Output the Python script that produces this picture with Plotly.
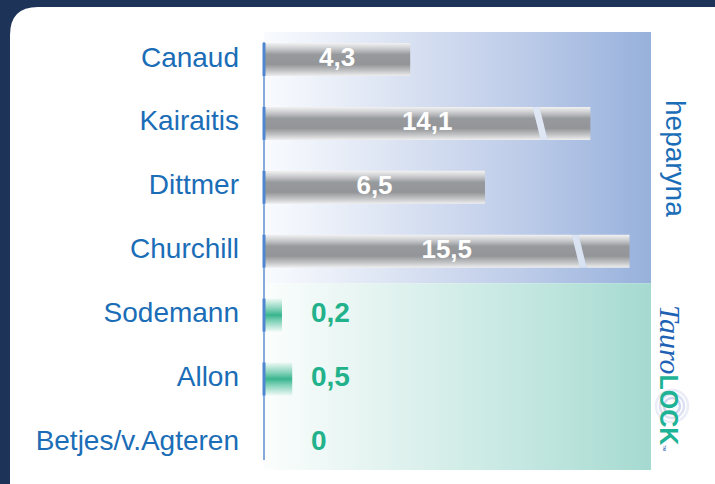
import plotly.graph_objects as go

# ---------------- data ----------------
studies = ["Canaud", "Kairaitis", "Dittmer", "Churchill", "Sodemann", "Allon", "Betjes/v.Agteren"]
values = [4.3, 14.1, 6.5, 15.5, 0.2, 0.5, 0.0]
groups = ["heparyna", "heparyna", "heparyna", "heparyna", "TauroLock", "TauroLock", "TauroLock"]
# displayed (axis-broken) length for bars that run off the scale
broken_display = {"Kairaitis": 9.6, "Churchill": 10.75}
group_labels = ["heparyna", "TauroLock"]

# ---------------- styling constants ----------------
W, H = 715, 484
PX_PER_UNIT = 34.0
X0_PX = 264.0
ROW0_PX, ROW_STEP = 59.5, 63.9
NAVY = "#1e3358"
BLUE_TXT = "#1a6db6"
GREEN_TXT = "#22b28b"
HH = 0.258          # half bar height (row units)
GLOW = 0.33         # soft glow around tiny green bars
BREAK_FROM_END = 1.7
SLANT = 0.24
GAP = 0.2

xr = [-X0_PX / PX_PER_UNIT, (W - X0_PX) / PX_PER_UNIT]
yr = [(H - ROW0_PX) / ROW_STEP, -ROW0_PX / ROW_STEP]   # reversed

def px_to_x(px):
    return (px - X0_PX) / PX_PER_UNIT

def py_to_y(py):
    return (py - ROW0_PX) / ROW_STEP

fig = go.Figure()

# ---------------- gradient panels ----------------
panel_l, panel_r = 0.0, px_to_x(651)
panel_top, panel_split, panel_bot = py_to_y(32), 3.5, py_to_y(470)
panels = [
    (panel_top, panel_split, [[0, "#f9fbfe"], [0.3, "#dfe6f4"], [0.65, "#bfcde9"], [1, "#97b1dc"]]),
    (panel_split, panel_bot, [[0, "#fbfefd"], [0.3, "#e3f3f0"], [0.65, "#c6e8e2"], [1, "#a5dad0"]]),
]
for y_a, y_b, cs in panels:
    fig.add_trace(go.Scatter(
        x=[panel_l, panel_r, panel_r, panel_l, panel_l],
        y=[y_a, y_a, y_b, y_b, y_a],
        mode="lines", line=dict(width=0), fill="toself",
        fillgradient=dict(type="horizontal", colorscale=cs, start=panel_l, stop=panel_r),
        hoverinfo="skip", showlegend=False))

grey_cs = [[0, "#f2f2f3"], [0.15, "#cfd0d2"], [0.35, "#979a9d"], [0.65, "#939598"],
           [0.85, "#c4c5c7"], [1, "#eeeeef"]]
green_cs = [[0, "rgba(60,184,144,0.05)"], [0.3, "rgba(60,184,144,0.6)"], [0.5, "rgba(45,176,136,0.95)"],
            [0.7, "rgba(60,184,144,0.6)"], [1, "rgba(60,184,144,0.05)"]]

def poly(xs, ys, cs, yc):
    fig.add_trace(go.Scatter(
        x=xs, y=ys, mode="lines", line=dict(width=0), fill="toself",
        fillgradient=dict(type="vertical", colorscale=cs, start=yc - HH, stop=yc + HH),
        hoverinfo="skip", showlegend=False))

# ---------------- axis line ----------------
fig.add_trace(go.Scatter(x=[0, 0], y=[py_to_y(42), py_to_y(460)], mode="lines",
                         line=dict(color="#86a8dc", width=2), hoverinfo="skip", showlegend=False))

# ---------------- bars ----------------
for i, (name, v, g) in enumerate(zip(studies, values, groups)):
    yc = i
    top, bot = yc - HH, yc + HH
    if v <= 0:
        continue
    if g == "heparyna":
        L = broken_display.get(name, v)
        if name in broken_display:
            b = L - BREAK_FROM_END
            poly([0, b, b + SLANT, 0, 0], [top, top, bot, bot, top], grey_cs, yc)
            poly([b + GAP, L, L, b + GAP + SLANT, b + GAP], [top, top, bot, bot, top], grey_cs, yc)
            fig.add_trace(go.Scatter(
                x=[b, b + GAP, b + GAP + SLANT, b + SLANT, b], y=[top, top, bot, bot, top],
                mode="lines", line=dict(width=0), fill="toself",
                fillcolor="rgba(255,255,255,0.55)", hoverinfo="skip", showlegend=False))
        else:
            poly([0, L, L, 0, 0], [top, top, bot, bot, top], grey_cs, yc)
    else:
        L = v + GLOW
        poly([0, L, L, 0, 0], [top, top, bot, bot, top], green_cs, yc)
    # darker start tick on the axis
    fig.add_trace(go.Scatter(x=[0, 0], y=[top, bot], mode="lines",
                             line=dict(color="#4f86cf", width=3), hoverinfo="skip", showlegend=False))

# ---------------- category labels ----------------
fig.add_trace(go.Scatter(
    x=[px_to_x(239)] * len(studies), y=list(range(len(studies))), mode="text",
    text=studies, textposition="middle left",
    textfont=dict(family="Liberation Sans, Arial, sans-serif", size=28, color=BLUE_TXT),
    hoverinfo="skip", showlegend=False))

# ---------------- value labels ----------------
lab_fmt = [f"{v:g}".replace(".", ",") for v in values]
hx, hy, ht, gx, gy, gt = [], [], [], [], [], []
for i, (name, v, g) in enumerate(zip(studies, values, groups)):
    if g == "heparyna":
        hx.append(broken_display.get(name, v) / 2)
        hy.append(i)
        ht.append(lab_fmt[i])
    else:
        gx.append(px_to_x(311))
        gy.append(i)
        gt.append(lab_fmt[i])
fig.add_trace(go.Scatter(
    x=hx, y=hy, text=ht, mode="text", textposition="middle center",
    textfont=dict(family="Liberation Sans, Arial, sans-serif", size=26, color="white", weight="bold"),
    hoverinfo="skip", showlegend=False))
fig.add_trace(go.Scatter(
    x=gx, y=gy, text=gt, mode="text", textposition="middle right",
    textfont=dict(family="Liberation Sans, Arial, sans-serif", size=28, color=GREEN_TXT, weight="bold"),
    hoverinfo="skip", showlegend=False))

# ---------------- group labels (vertical) ----------------
fig.add_annotation(x=px_to_x(676), y=py_to_y(158), text=group_labels[0], textangle=90,
                   showarrow=False, xref="x", yref="y",
                   font=dict(family="Liberation Sans, Arial, sans-serif", size=28, color=BLUE_TXT))

# ripple rings around the "O" of the logo
for rad, col in [(16, "rgba(170,178,225,0.25)"), (12, "rgba(160,170,220,0.35)"), (8, "rgba(140,150,215,0.4)")]:
    fig.add_shape(type="circle", xref="x", yref="y", xsizemode="pixel", ysizemode="pixel",
                  xanchor=px_to_x(672), yanchor=py_to_y(406), x0=-rad, x1=rad, y0=-rad, y1=rad,
                  line=dict(color=col, width=2.5), fillcolor="rgba(0,0,0,0)", layer="above")

tauro = ("<span style='font-family:Liberation Serif, Times New Roman, serif;font-style:italic;color:#1d62b4;font-size:30px'>Tauro</span>"
         "<span style='font-family:Liberation Sans, Arial, sans-serif;font-weight:bold;color:#1db394;font-size:25px'>LOCK</span>"
         "<span style='color:#1d62b4;font-size:8px'>™</span>")
fig.add_annotation(x=px_to_x(671), y=py_to_y(378), text=tauro, textangle=90,
                   showarrow=False, xref="x", yref="y")

# ---------------- card background ----------------
def P(px, py):
    return f"{px / W:.5f},{1 - py / H:.5f}"

x1c, y1c, x2c, y2c, r = 10, 7, 742, 512, 28
card = (f"M {P(x1c + r, y1c)} L {P(x2c - r, y1c)} Q {P(x2c, y1c)} {P(x2c, y1c + r)} "
        f"L {P(x2c, y2c - r)} Q {P(x2c, y2c)} {P(x2c - r, y2c)} "
        f"L {P(x1c + r, y2c)} Q {P(x1c, y2c)} {P(x1c, y2c - r)} "
        f"L {P(x1c, y1c + r)} Q {P(x1c, y1c)} {P(x1c + r, y1c)} Z")
fig.add_shape(type="path", path=card, xref="paper", yref="paper",
              fillcolor="white", line=dict(width=0), layer="below")

fig.update_layout(
    width=W, height=H, margin=dict(l=0, r=0, t=0, b=0),
    paper_bgcolor=NAVY, plot_bgcolor=NAVY,
    xaxis=dict(range=xr, visible=False, fixedrange=True),
    yaxis=dict(range=yr, visible=False, fixedrange=True),
    showlegend=False,
)

fig.write_html(
    "out.html",
    config={"displayModeBar": False},
    post_script=("document.body.style.margin='0';document.body.style.padding='0';"
                 "document.body.style.overflow='hidden';"
                 f"document.body.style.background='{NAVY}';"),
)
